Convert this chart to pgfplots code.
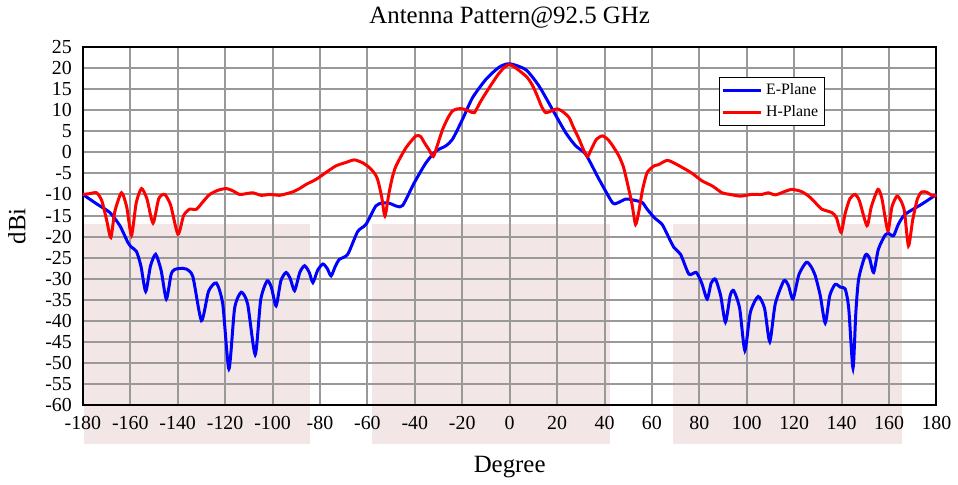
\documentclass[border=0pt]{standalone}
\usepackage{fontspec}
\setmainfont{Liberation Serif}
\usepackage{pgfplots}
\pgfplotsset{compat=1.18}
\definecolor{zone}{RGB}{242,230,230}
\definecolor{eblue}{RGB}{0,0,255}
\definecolor{hred}{RGB}{255,0,0}
\begin{document}
\begin{tikzpicture}
\begin{axis}[
  set layers,
  scale only axis,
  width=427.5bp, height=179.5bp,
  xmin=-180, xmax=180, ymin=-60, ymax=25,
  xtick={-180,-160,...,180},
  ytick={-60,-55,...,25},
  grid=major,
  grid style={gray!80, line width=1bp},
  major tick length=0pt,
  axis line style={black, line width=1bp},
  tick label style={font=\fontsize{10}{12}\selectfont},
  xticklabel style={yshift=-2bp},
  yticklabel style={xshift=-2bp},
  /pgf/number format/assume math mode=true,
  title={Antenna Pattern@92.5 GHz},
  title style={font=\fontsize{12.5}{15}\selectfont},
  xlabel={Degree}, ylabel={dBi},
  label style={font=\fontsize{12.5}{15}\selectfont},
  xlabel style={yshift=-6.5bp},
  ylabel style={yshift=3bp},
  clip=false,
  legend style={at={(0.745,0.916)}, anchor=north west,
    font=\fontsize{8}{10}\selectfont, draw=black, line width=0.4pt,
    inner sep=1pt},
  legend cell align=left,
  legend image code/.code={\draw[#1, line width=1.5bp] (0bp,0bp) -- (19bp,0bp);},
]
% shaded zones
\addplot[fill=zone, draw=none, on layer=axis background, forget plot]
  coordinates {(-179.6,-69.2) (-179.6,-17) (-84,-17) (-84,-69.2)} -- cycle;
\addplot[fill=zone, draw=none, on layer=axis background, forget plot]
  coordinates {(-58,-69.2) (-58,-17) (42.2,-17) (42.2,-69.2)} -- cycle;
\addplot[fill=zone, draw=none, on layer=axis background, forget plot]
  coordinates {(69,-69.2) (69,-17) (165.6,-17) (165.6,-69.2)} -- cycle;

% E-Plane
\addplot[eblue, line width=1.5bp, smooth, tension=0.4] coordinates {
(-180,-10) (-174,-12.3) (-168.6,-14.3) (-164.4,-17.4) (-161,-21.4)
(-159.5,-22.5) (-157.4,-23.5) (-155.5,-27) (-153.5,-33) (-151.5,-27)
(-149.3,-24.2) (-147,-28) (-144.8,-34.8) (-142.8,-29) (-141.3,-27.8)
(-138,-27.5) (-136.3,-27.7) (-133.6,-29.5) (-130,-39.9) (-127,-33)
(-123.7,-31) (-121,-36) (-118.4,-51.4) (-116,-37) (-113.2,-33.2)
(-110.5,-36) (-107.3,-48) (-105,-35) (-102.3,-30.5) (-100.5,-32)
(-98.5,-36.4) (-96.5,-30.5) (-94.3,-28.5) (-92.5,-30) (-90.7,-32.8)
(-88.5,-28.5) (-86.5,-26.9) (-84.5,-28.5) (-83,-30.9) (-81,-28)
(-78.8,-26.5) (-77,-27.5) (-75.3,-29.3) (-73.5,-27) (-71.8,-25.4)
(-68.3,-24.2) (-64.1,-18.8) (-60.6,-17.1) (-56.4,-12.7) (-53.5,-12)
(-50.7,-12.1) (-47.5,-12.8) (-45.1,-12.6) (-40.2,-7.2) (-35.3,-2.5)
(-31.1,0.3) (-27,1.5) (-24.1,3.1) (-19.9,7.8) (-15.7,12.9)
(-10,17.3) (-4.4,20.2) (0,21) (6.8,19.6) (12.4,15.7)
(18,10.2) (23.7,4.6) (27.9,1.5) (32.1,-0.5) (37.7,-6.4)
(43.3,-11.9) (45.5,-12) (48.9,-11.1) (52,-11.3) (55.9,-11.9)
(58,-13.5) (61,-15.5) (64.3,-17.1) (66.5,-19.5) (69.3,-22.6)
(72.1,-24.2) (75.6,-28.9) (78.7,-28.5) (81,-31) (83.3,-34.8)
(85,-31) (86.8,-30.1) (89,-34) (91,-40.3) (93,-34)
(94.5,-32.8) (97,-37) (99.2,-47) (101.5,-38) (104.8,-34.2)
(107.5,-37) (109.7,-44.9) (112,-36) (115.6,-30.5) (117.5,-31.5)
(119.5,-34.8) (122,-29) (125.1,-26.1) (127,-27) (128.9,-29.3)
(131,-34) (133.1,-40.5) (135,-34) (137.3,-31.3) (139.5,-32)
(141.5,-32.4) (143,-37) (144.8,-51.2) (146,-38) (147.2,-30)
(150,-24.4) (151.7,-25) (153.5,-28.5) (155.5,-23) (158.4,-19.6)
(160,-19.3) (161.9,-19.8) (164,-17) (166.8,-14.7) (173.8,-12.3)
(180,-10)
};
\addlegendentry{E-Plane}

% H-Plane
\addplot[hred, line width=1.5bp, smooth, tension=0.4] coordinates {
(-180,-10) (-177,-9.8) (-174.2,-9.6) (-172,-11.5) (-170,-16)
(-168.2,-20.2) (-166.5,-14) (-163.7,-9.6) (-161.5,-13) (-159.5,-19.7)
(-157.5,-12) (-155.3,-8.6) (-153,-11) (-150.4,-16.8) (-148,-11)
(-145.5,-10) (-143,-12.5) (-139.9,-19.4) (-137.5,-15) (-135,-13.5)
(-132.1,-13.5) (-129,-11.5) (-126.5,-10) (-123,-9) (-119.5,-8.6)
(-116.5,-9.2) (-113.9,-10) (-111,-9.8) (-108.3,-9.6) (-104.8,-10.2)
(-101,-10) (-97,-10.2) (-94,-9.8) (-91.5,-9.4) (-88.6,-8.6)
(-85.8,-7.6) (-81.6,-6.4) (-77,-4.6) (-73.2,-3.2) (-69,-2.4)
(-65.5,-1.8) (-62,-2.5) (-59.2,-3.6) (-57,-5) (-55.7,-6.4)
(-54,-10.5) (-52.6,-15.1) (-51,-10) (-49.5,-6) (-47.9,-3.2)
(-43.7,1.1) (-39.5,3.9) (-37.5,3.7) (-36,2.3) (-34,0.6)
(-32.2,-1) (-30.3,2) (-28.3,5.4) (-26,8.2) (-24.1,9.8)
(-22,10.3) (-19.9,10.3) (-17.2,9.8) (-14.9,9.4) (-12.5,11.8)
(-10,14.1) (-4.4,18.8) (0,20.8) (6.8,18.1) (9.5,16)
(11.7,13.3) (13.5,10.8) (15.2,9.4) (17.5,9.8) (20.1,10.3)
(22.5,9.6) (25.1,8.2) (27,5.8) (29.3,3.1) (31,0.8)
(32.8,-1) (34.5,0.8) (36.5,3) (39.1,3.9) (41.5,3)
(43.5,1.5) (46.1,-0.9) (48,-3.5) (49.6,-7.2) (51.5,-12)
(53.1,-17.1) (54.5,-14) (56,-9) (58,-4.8) (61,-3.2)
(62.9,-2.9) (66.4,-1.9) (69.5,-2.6) (72.8,-3.6) (77,-5)
(81.2,-6.8) (85.5,-8) (89.6,-9.6) (93,-10) (97.3,-10.4)
(102,-10) (106.4,-10) (109,-9.6) (112.1,-10.1) (116,-9.3)
(119.1,-8.8) (123,-9.3) (126.1,-10.4) (129,-12) (131.7,-13.5)
(135.9,-14.3) (137.8,-15.5) (139.8,-19) (141.5,-14.5) (143.5,-11)
(145.7,-10) (147.5,-11.5) (150.7,-17.4) (152.5,-13) (155.3,-8.8)
(157,-11) (159.5,-18.6) (161.2,-13) (163.3,-10.4) (165,-11.5)
(166.5,-14) (168.2,-22.2) (170,-16) (172,-11) (173.8,-9.4)
(176,-9.5) (178,-10.2) (180,-10.2)
};
\addlegendentry{H-Plane}
\end{axis}
\path (-41.5bp,-36.5bp) rectangle (437.5bp,201.5bp);
\end{tikzpicture}
\end{document}
